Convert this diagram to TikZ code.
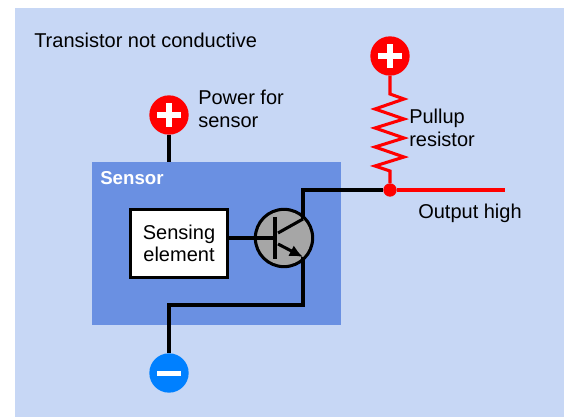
\documentclass[tikz,border=0pt]{standalone}
\usepackage{fontspec}
\setmainfont{Liberation Sans}
\usetikzlibrary{arrows.meta,calc}
\definecolor{Panel}{HTML}{C7D7F5}
\definecolor{SensorBlue}{HTML}{6A90E2}
\definecolor{PlusRed}{HTML}{FF0000}
\definecolor{MinusBlue}{HTML}{0080FF}
\definecolor{BodyGrey}{HTML}{A6A6A6}

\begin{document}
\begin{tikzpicture}[x=0.75pt,y=-0.75pt]
    \tikzset{
      caption/.style={font=\fontsize{15}{17}\selectfont,align=left,anchor=west,inner sep=0pt},
      wire/.style={line width=2.3pt,draw=black,line join=miter},
      redwire/.style={line width=2.3pt,draw=PlusRed,line join=miter},
      terminal/.style={circle,minimum size=29.5pt,inner sep=0pt},
      sign/.style={fill=white,draw=none}
    }
    \useasboundingbox (0,0) rectangle (564,417);
    \fill[Panel] (15,8) rectangle (564,417);
    \node[fill=SensorBlue,minimum width=186.75pt,minimum height=122.25pt,inner sep=0pt] (sensorbox) at (216.5,243.5) {};
    \node[caption] (state) at (34,40) {Transistor not conductive};
    \node[caption,font=\fontsize{14}{16.5}\selectfont\bfseries,text=white] (sensor) at (100,178) {Sensor};
    \node[caption] (power) at (198,109) {Power for\\sensor};
    \node[caption] (pullup) at (409,128) {Pullup\\resistor};
    \node[caption] (output) at (418,213) {Output high};

    % terminals
    \node[terminal,fill=PlusRed] (plussensor) at (169,115) {};
    \node[terminal,fill=PlusRed] (pluspullup) at (390,56) {};
    \node[terminal,fill=MinusBlue] (minus) at (169,373) {};
    \foreach \t in {plussensor,pluspullup} {
      \fill[sign] ($(\t)+(-12,-3)$) rectangle ($(\t)+(12,3)$);
      \fill[sign] ($(\t)+(-3,-12)$) rectangle ($(\t)+(3,12)$);
    }
    \fill[sign] ($(minus)+(-12,-2.5)$) rectangle ($(minus)+(12,2.5)$);

    % sensing element and transistor
    \node[draw=black,line width=2pt,fill=white,minimum width=73pt,minimum height=51pt,
          inner sep=0pt,align=center,font=\fontsize{15}{17}\selectfont] (element) at (179,243.5) {Sensing\\element};
    \node[circle,draw=black,line width=2.3pt,fill=BodyGrey,minimum size=43pt,inner sep=0pt] (transistor) at (284,238) {};
    \coordinate (sensortop) at (169,162);
    \coordinate (base) at (275,238);
    \coordinate (basetop) at (275,217);
    \coordinate (basebot) at (275,259);
    \coordinate (collin) at (278,233);
    \coordinate (coll) at (303,219);
    \coordinate (emitin) at (278,244);
    \coordinate (emit) at (303,257);
    \coordinate (corner) at (303,190);
    \coordinate (lowcorner) at (303,305);
    \coordinate (lowleft) at (169,305);
    \coordinate (outend) at (505,190);
    \node[circle,fill=PlusRed,minimum size=10pt,inner sep=0pt] (junction) at (390,190) {};

    \draw[wire] (plussensor) -- (sensortop);
    \draw[wire] (element.east |- base) -- (base);
    \draw[line width=3pt] (basetop) -- (basebot);
    \draw[wire] (collin) -- (coll);
    \draw[wire] (coll) -- (corner) -- (junction);
    \draw[wire,-{Latex[length=10pt,width=9pt]}] (emitin) -- (emit);
    \draw[wire] (emit) -- (lowcorner) -- (lowleft) -- (minus);

    % pullup resistor
    \draw[redwire] (pluspullup) -- ++(0,38) -- ++(14,5) -- ++(-29,10) -- ++(29,10) -- ++(-29,9)
      -- ++(29,10) -- ++(-29,9) -- ++(29,10) -- ++(-29,9) -- ++(15,5) -- (junction);
    \draw[redwire] (junction) -- (outend);
  \end{tikzpicture}
\end{document}
